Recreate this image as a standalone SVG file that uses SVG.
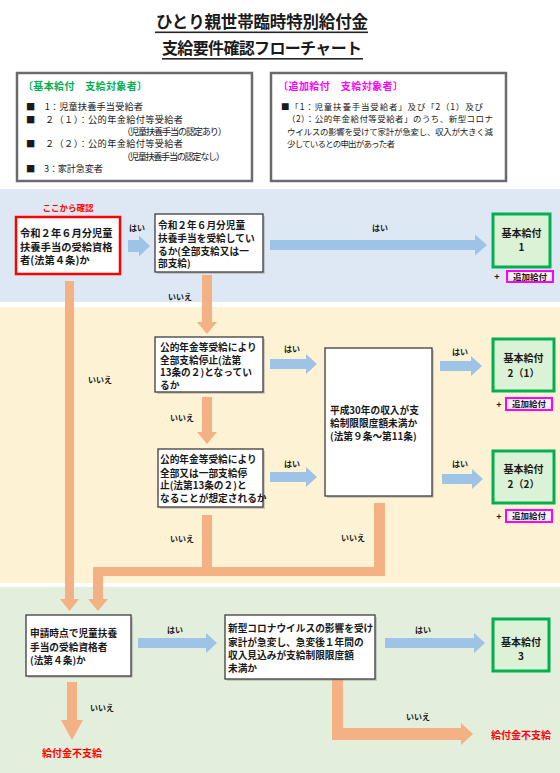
<svg xmlns="http://www.w3.org/2000/svg" width="560" height="773" viewBox="0 0 560 773">
<style>
text{font-family:"Noto Sans CJK JP","Noto Sans",sans-serif;fill:#1a1a1a}
.t{font-size:9.7px;font-weight:bold}
.lbl{font-size:8px;font-weight:bold;text-anchor:middle}
.leg{font-size:9.2px}
.leg2{font-size:8.5px}
.box{fill:#fff;stroke:#3c3c3c;stroke-width:1.3}
.sh{fill:#9a9a9a;opacity:.45}
.res{fill:#dcf2d6;stroke:#00b050;stroke-width:3}
.add{fill:#fbeefb;stroke:#ff00ff;stroke-width:2}
.addt{font-size:8.5px;font-weight:bold;text-anchor:middle}
.rest{font-size:10px;font-weight:bold;text-anchor:middle}
.blue{fill:#9dc3e6}
.org{fill:#f4b183}
.ng{font-size:10px;font-weight:bold;fill:#ff0000;text-anchor:middle}
</style>
<rect width="560" height="773" fill="#fff"/>
<!-- bands -->
<rect x="0" y="189" width="560" height="113" fill="#dee8f4"/>
<rect x="0" y="307" width="560" height="276" fill="#fef2d4"/>
<rect x="0" y="587" width="560" height="186" fill="#e3efdc"/>

<!-- title -->
<g id="title">
<text x="262" y="28" font-size="16.5" font-weight="bold" text-anchor="middle" textLength="212" fill="#262626">ひとり親世帯臨時特別給付金</text>
<rect x="155" y="31.5" width="213" height="1.6" fill="#262626"/>
<text x="262" y="54" font-size="16" font-weight="bold" text-anchor="middle" textLength="200" fill="#262626">支給要件確認フローチャート</text>
<rect x="162" y="58" width="201" height="1.6" fill="#262626"/>
</g>

<!-- legends -->
<g id="legend-basic">
<rect x="17" y="73" width="235" height="108" fill="#fff" stroke="#6b6b6b" stroke-width="2.5"/>
<text x="23" y="90" font-size="10" font-weight="bold" style="fill:#00b050" textLength="124">〔基本給付　支給対象者〕</text>
<text class="leg" x="26" y="110" textLength="117">■　1：児童扶養手当受給者</text>
<text class="leg" x="26" y="122.5" textLength="157">■　２（１）：公的年金給付等受給者</text>
<text class="leg" x="122" y="135" textLength="105">（児童扶養手当の認定あり）</text>
<text class="leg" x="26" y="147" textLength="157">■　２（２）：公的年金給付等受給者</text>
<text class="leg" x="122" y="160" textLength="103">（児童扶養手当の認定なし）</text>
<text class="leg" x="26" y="172" textLength="77">■　3：家計急変者</text>
</g>
<g id="legend-additional">
<rect x="271" y="73" width="235" height="108" fill="#fff" stroke="#6b6b6b" stroke-width="2.5"/>
<text x="278" y="90" font-size="10" font-weight="bold" style="fill:#ff00ff" textLength="125">〔追加給付　支給対象者〕</text>
<text class="leg2" x="281" y="110" textLength="202">■「1：児童扶養手当受給者」及び「2（1）及び</text>
<text class="leg2" x="287" y="122.3" textLength="206">（2）：公的年金給付等受給者」のうち、新型コロナ</text>
<text class="leg2" x="287" y="134.6" textLength="206">ウイルスの影響を受けて家計が急変し、収入が大きく減</text>
<text class="leg2" x="287" y="147" textLength="108">少しているとの申出があった者</text>
</g>

<!-- connectors -->
<g id="connectors">
<path class="blue" d="M128 240H139V235.5L150 246L139 256.5V252H128Z"/>
<path class="blue" d="M270 240H475V234.5L487 245L475 255.5V250H270Z"/>
<path class="blue" d="M270 359H306V354L317 364L306 374V369H270Z"/>
<path class="blue" d="M270 472H306V467L317 477L306 487V482H270Z"/>
<path class="blue" d="M440 361H471V356L482 366L471 376V371H440Z"/>
<path class="blue" d="M442 474H472V469L483 479L472 489V484H442Z"/>
<path class="blue" d="M138 638H206V633L217 643L206 653V648H138Z"/>
<path class="blue" d="M385 638H474V633L485 643L474 653V648H385Z"/>
<path class="org" d="M202 275H212V322H217L207 334L197 322H202Z"/>
<path class="org" d="M202 397H212V432H217L207 444L197 432H202Z"/>
<path class="org" d="M374 503H385V576H103V599H108L98 611L88 599H93V567H202V515H212V567H374Z"/>
<path class="org" d="M65 281H74V599H79L69.5 611L60 599H65Z"/>
<path class="org" d="M67 682H77V720H83L72 740L61 720H67Z"/>
<path class="org" d="M332 679H343V728H461V723L473 734L461 745V740H332Z"/>
<text class="lbl" x="137" y="231">はい</text>
<text class="lbl" x="380" y="231">はい</text>
<text class="lbl" x="180" y="300">いいえ</text>
<text class="lbl" x="100" y="383">いいえ</text>
<text class="lbl" x="182" y="421">いいえ</text>
<text class="lbl" x="182" y="542">いいえ</text>
<text class="lbl" x="292" y="352">はい</text>
<text class="lbl" x="292" y="467">はい</text>
<text class="lbl" x="460" y="355">はい</text>
<text class="lbl" x="460" y="467">はい</text>
<text class="lbl" x="353" y="541">いいえ</text>
<text class="lbl" x="175" y="633">はい</text>
<text class="lbl" x="102" y="711">いいえ</text>
<text class="lbl" x="423" y="633">はい</text>
<text class="lbl" x="418" y="720">いいえ</text>
</g>

<!-- nodes -->
<g id="start">
<text x="68" y="211" font-size="8.5" font-weight="bold" text-anchor="middle" style="fill:#ff0000">ここから確認</text>
<rect x="16" y="217" width="104" height="57" fill="#fff" stroke="#ff0000" stroke-width="2.5"/>
<text class="t" x="20" y="237" style="font-size:10.3px">令和２年６月分児童</text>
<text class="t" x="20" y="250.5" style="font-size:10.3px">扶養手当の受給資格</text>
<text class="t" x="20" y="264" style="font-size:10.3px">者(法第４条)か</text>
</g>
<g id="q-receiving">
<rect class="sh" x="157" y="216" width="108" height="58"/>
<rect class="box" x="155" y="214" width="108" height="58"/>
<text class="t" x="158" y="229">令和２年６月分児童</text>
<text class="t" x="158" y="242">扶養手当を受給してい</text>
<text class="t" x="158" y="254.5">るか(全部支給又は一</text>
<text class="t" x="158" y="267">部支給)</text>
</g>
<g id="result-1">
<rect class="res" x="493" y="214" width="57" height="53"/>
<text class="rest" x="521.5" y="237">基本給付</text>
<text class="rest" x="521.5" y="251">1</text>
<text x="497" y="280" font-size="9" font-weight="bold" text-anchor="middle">+</text>
<rect class="add" x="507" y="271" width="46" height="11"/>
<text class="addt" x="530" y="279.5">追加給付</text>
</g>
<g id="q-stop-all">
<rect class="sh" x="157" y="339" width="108" height="55"/>
<rect class="box" x="155" y="337" width="108" height="55"/>
<text class="t" x="160" y="351">公的年金等受給により</text>
<text class="t" x="160" y="363.5">全部支給停止(法第</text>
<text class="t" x="160" y="376">13条の２)となってい</text>
<text class="t" x="160" y="388.5">るか</text>
</g>
<g id="q-stop-expected">
<rect class="sh" x="160" y="451" width="105" height="58"/>
<rect class="box" x="158" y="449" width="105" height="58"/>
<text class="t" x="160" y="463">公的年金等受給により</text>
<text class="t" x="160" y="476.5">全部又は一部支給停</text>
<text class="t" x="160" y="489">止(法第13条の２)と</text>
<text class="t" x="160" y="501.5">なることが想定されるか</text>
</g>
<g id="q-income">
<rect class="sh" x="327" y="350" width="107" height="148"/>
<rect class="box" x="325" y="348" width="107" height="148"/>
<text class="t" x="330" y="414">平成30年の収入が支</text>
<text class="t" x="330" y="427">給制限限度額未満か</text>
<text class="t" x="330" y="440">(法第９条～第11条)</text>
</g>
<g id="result-2-1">
<rect class="res" x="493" y="339" width="61" height="52"/>
<text class="rest" x="523.5" y="362">基本給付</text>
<text class="rest" x="523.5" y="377">2（1）</text>
<text x="499" y="408" font-size="9" font-weight="bold" text-anchor="middle">+</text>
<rect class="add" x="506" y="398" width="46" height="12"/>
<text class="addt" x="529" y="407">追加給付</text>
</g>
<g id="result-2-2">
<rect class="res" x="493" y="451" width="61" height="52"/>
<text class="rest" x="523.5" y="473">基本給付</text>
<text class="rest" x="523.5" y="488">2（2）</text>
<text x="499" y="520" font-size="9" font-weight="bold" text-anchor="middle">+</text>
<rect class="add" x="506" y="510" width="46" height="12"/>
<text class="addt" x="529" y="519">追加給付</text>
</g>
<g id="q-eligible-now">
<rect class="sh" x="28" y="617" width="105" height="61"/>
<rect class="box" x="26" y="615" width="105" height="61"/>
<text class="t" x="30" y="637">申請時点で児童扶養</text>
<text class="t" x="30" y="650.5">手当の受給資格者</text>
<text class="t" x="30" y="664">(法第４条)か</text>
</g>
<g id="q-covid">
<rect class="sh" x="227" y="617" width="150" height="64"/>
<rect class="box" x="225" y="615" width="150" height="64"/>
<text class="t" x="228" y="632">新型コロナウイルスの影響を受け</text>
<text class="t" x="228" y="645.5">家計が急変し、急変後１年間の</text>
<text class="t" x="228" y="659">収入見込みが支給制限限度額</text>
<text class="t" x="228" y="671.5">未満か</text>
</g>
<g id="result-3">
<rect class="res" x="493" y="619" width="56" height="52"/>
<text class="rest" x="521" y="646">基本給付</text>
<text class="rest" x="521" y="660">3</text>
</g>
<g id="no-pay-1"><text class="ng" x="72" y="757">給付金不支給</text></g>
<g id="no-pay-2"><text class="ng" x="521" y="739">給付金不支給</text></g>
</svg>
